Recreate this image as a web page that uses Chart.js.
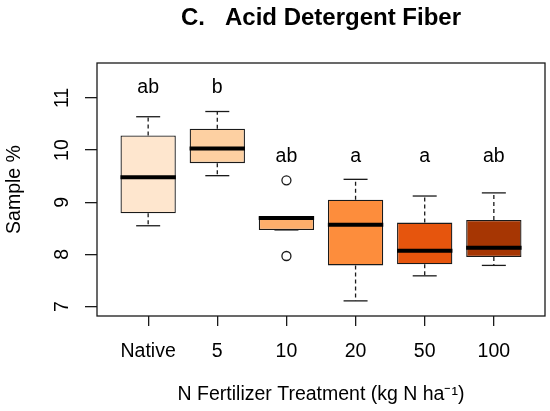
<!DOCTYPE html>
<html>
<head>
<meta charset="utf-8">
<script src="https://cdn.jsdelivr.net/npm/chart.js@4.4.1/dist/chart.umd.min.js"></script>
<style>
  body { margin: 0; background: #fff; }
  #wrap { width: 550px; height: 411px; }
</style>
</head>
<body>
<div id="wrap"><canvas id="adf-chart"></canvas></div>
<script>
// boxplot numbers (Sample %)
const categories = ['Native', '5', '10', '20', '50', '100'];
const whiskerLow = [8.55, 9.51, 8.47, 7.11, 7.59, 7.79];
const q1 = [8.79, 9.75, 8.47, 7.79, 7.81, 7.95];
const median = [9.48, 10.03, 8.70, 8.57, 8.07, 8.13];
const q3 = [10.28, 10.41, 8.72, 9.05, 8.61, 8.66];
const whiskerHigh = [10.64, 10.74, 8.72, 9.44, 9.12, 9.18];
const outlierGroup = [3, 3];
const outlierValue = [9.42, 7.97];
const letters = ['ab', 'b', 'ab', 'a', 'a', 'ab'];
const letterLevel = [11.19, 11.19, 9.88, 9.88, 9.88, 9.88];
const yTicks = [7, 8, 9, 10, 11];

const boxColors = ['#FEE6CE', '#FDD0A2', '#FDAE6B', '#FD8D3C', '#E6550D', '#A63603'];
const ink = '#1a1a1a';
const fontFamily = '"Liberation Sans", Arial, Helvetica, sans-serif';

const ctx = document.getElementById('adf-chart').getContext('2d');

// dashed whiskers: q3 -> max and q1 -> min, broken by gaps
const whiskerPoints = [];
categories.forEach((c, i) => {
    whiskerPoints.push({x: i + 1, y: q3[i]}, {x: i + 1, y: whiskerHigh[i]}, {x: i + 1, y: null});
    whiskerPoints.push({x: i + 1, y: q1[i]}, {x: i + 1, y: whiskerLow[i]}, {x: i + 1, y: null});
});

const capPoints = [];
categories.forEach((c, i) => {
    capPoints.push({x: i + 1, y: whiskerHigh[i]}, {x: i + 1, y: whiskerLow[i]});
});

const noPadding = scale => {
    scale.paddingLeft = 0;
    scale.paddingRight = 0;
    scale.paddingTop = 0;
    scale.paddingBottom = 0;
};

const extras = {
    id: 'extras',
    afterDraw(chart) {
        const {ctx, chartArea, scales} = chart;
        const x = scales.x, y = scales.y;
        ctx.save();
        // plot frame
        ctx.strokeStyle = ink;
        ctx.lineWidth = 1.3;
        ctx.strokeRect(chartArea.left, chartArea.top, chartArea.right - chartArea.left, chartArea.bottom - chartArea.top);

        // main title
        ctx.fillStyle = '#000';
        ctx.font = 'bold 24px ' + fontFamily;
        ctx.textAlign = 'center';
        ctx.textBaseline = 'alphabetic';
        ctx.fillText('C.   Acid Detergent Fiber', (chartArea.left + chartArea.right) / 2, 25);

        // y tick labels, rotated like R
        ctx.font = '19.5px ' + fontFamily;
        ctx.textBaseline = 'middle';
        yTicks.forEach(v => {
            ctx.save();
            ctx.translate(62.5, y.getPixelForValue(v));
            ctx.rotate(-Math.PI / 2);
            ctx.fillText(String(v), 0, 0);
            ctx.restore();
        });

        // significance letters
        letters.forEach((t, i) => {
            ctx.fillText(t, x.getPixelForValue(i + 1), y.getPixelForValue(letterLevel[i]));
        });
        ctx.restore();
    }
};

const config = {
    type: 'bar',
    data: {
        datasets: [
            {
                type: 'line',
                label: 'Median',
                data: categories.map((c, i) => ({x: i + 1, y: median[i]})),
                showLine: false,
                pointStyle: 'line',
                pointRadius: 27.7,
                pointBorderWidth: 4,
                pointBorderColor: '#000'
            },
            {
                type: 'line',
                label: 'Caps',
                data: capPoints,
                showLine: false,
                pointStyle: 'line',
                pointRadius: 12,
                pointBorderWidth: 1.3,
                pointBorderColor: ink
            },
            {
                type: 'line',
                label: 'Outliers',
                data: outlierGroup.map((g, i) => ({x: g, y: outlierValue[i]})),
                showLine: false,
                pointStyle: 'circle',
                pointRadius: 4.5,
                pointBorderWidth: 1.3,
                pointBorderColor: ink,
                pointBackgroundColor: '#fff'
            },
            {
                type: 'line',
                label: 'Whiskers',
                data: whiskerPoints,
                borderColor: ink,
                borderWidth: 1.3,
                borderDash: [4, 3],
                pointRadius: 0,
                spanGaps: false
            },
            {
                label: 'Box',
                data: categories.map((c, i) => ({x: i + 1, y: [q1[i], q3[i]]})),
                backgroundColor: boxColors,
                borderColor: ink,
                borderWidth: 1.3,
                borderSkipped: false,
                barPercentage: 1,
                categoryPercentage: 0.8
            }
        ]
    },
    options: {
        responsive: true,
        maintainAspectRatio: false,
        animation: false,
        events: [],
        layout: {
            autoPadding: false,
            padding: {top: 63, right: 5, left: 0, bottom: 0}
        },
        plugins: {
            legend: {display: false},
            tooltip: {enabled: false}
        },
        scales: {
            x: {
                type: 'linear',
                min: 0.26,
                max: 6.74,
                offset: false,
                afterBuildTicks: scale => { scale.ticks = categories.map((c, i) => ({value: i + 1})); },
                afterFit: scale => { scale.height = 95; noPadding(scale); },
                grid: {display: true, offset: false, drawOnChartArea: false, drawTicks: true, tickLength: 10, color: ink, lineWidth: 1.3},
                border: {display: false},
                ticks: {
                    padding: 14.3,
                    color: '#000',
                    maxRotation: 0,
                    font: {family: fontFamily, size: 19.5},
                    callback: value => categories[value - 1]
                },
                title: {
                    display: true,
                    text: 'N Fertilizer Treatment (kg N ha\u207B\u00B9)',
                    color: '#000',
                    font: {family: fontFamily, size: 19.5},
                    padding: {top: 0, bottom: 4.3}
                }
            },
            y: {
                min: 6.82,
                max: 11.67,
                afterBuildTicks: scale => { scale.ticks = yTicks.map(v => ({value: v})); },
                afterFit: scale => { scale.width = 97; noPadding(scale); },
                grid: {display: true, drawOnChartArea: false, drawTicks: true, tickLength: 12, color: ink, lineWidth: 1.3},
                border: {display: false},
                ticks: {display: false},
                title: {
                    display: true,
                    text: 'Sample %',
                    color: '#000',
                    font: {family: fontFamily, size: 19.5},
                    padding: {top: 3.3, bottom: 0}
                }
            }
        }
    },
    plugins: [extras]
};

const adfChart = new Chart(ctx, config);
</script>
</body>
</html>
